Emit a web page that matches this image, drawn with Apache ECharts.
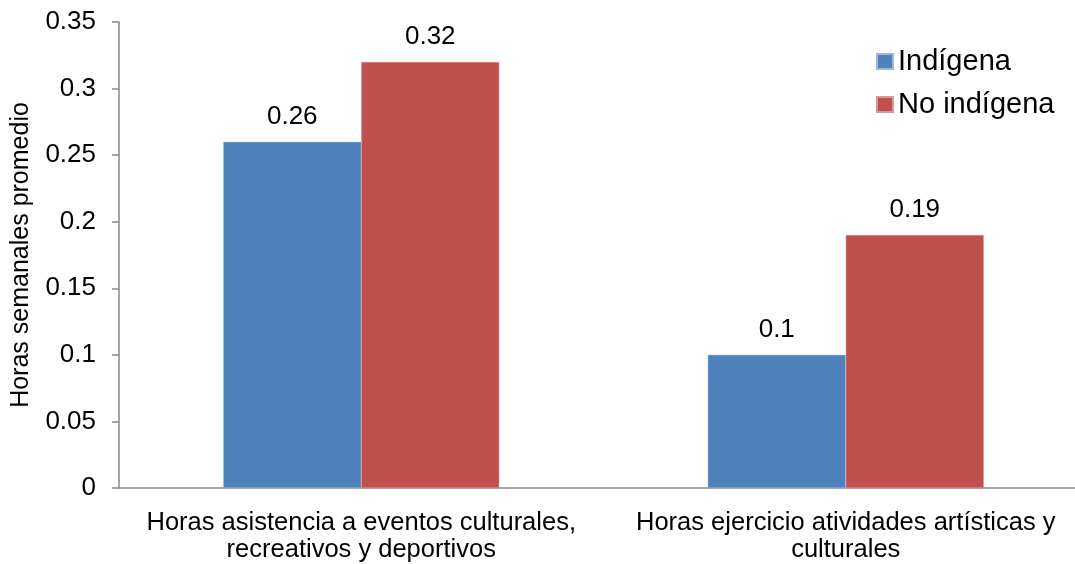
<!DOCTYPE html>
<html>
<head>
<meta charset="utf-8">
<script src="https://cdn.jsdelivr.net/npm/echarts@6/dist/echarts.min.js"></script>
<style>html,body{margin:0;padding:0;background:#fff;overflow:hidden;}#c{width:1090px;height:564px;}</style>
</head>
<body>
<div id="c"></div>
<script>
const categories = ['Horas asistencia a eventos culturales,\nrecreativos y deportivos', 'Horas ejercicio atividades artísticas y\nculturales'];
const indigena = [0.26, 0.1];
const noIndigena = [0.32, 0.19];
const yTicks = [0, 0.05, 0.1, 0.15, 0.2, 0.25, 0.3, 0.35];

const chart = echarts.init(document.getElementById('c'));
const font = 'Liberation Sans, Arial, sans-serif';
chart.setOption({
  animation: false,
  textStyle: {fontFamily: font},
  grid: {left: 119, right: 2, top: 22, bottom: 76, containLabel: false},
  legend: {
    orient: 'vertical', left: 871, top: 42, itemWidth: 16, itemHeight: 15, itemGap: 14,
    icon: 'rect',
    textStyle: {fontSize: 29, color: '#000', fontFamily: font},
    data: ['Indígena', 'No indígena']
  },
  xAxis: {
    type: 'category', data: categories,
    axisLine: {lineStyle: {color: '#898989', width: 1.5}},
    axisTick: {show: false},
    axisLabel: {interval: 0, hideOverlap: false, fontSize: 25.5, color: '#000', lineHeight: 27, margin: 21, fontFamily: font}
  },
  yAxis: {
    type: 'value', min: 0, max: 0.35, interval: 0.05,
    name: 'Horas semanales promedio', nameLocation: 'middle', nameGap: 85,
    nameTextStyle: {fontSize: 25, color: '#000', fontFamily: font},
    axisLine: {show: true, lineStyle: {color: '#898989', width: 1.5}},
    axisTick: {show: true, inside: false, length: 7, lineStyle: {color: '#898989', width: 1.5}},
    splitLine: {show: false},
    axisLabel: {fontSize: 26, color: '#000', margin: 23, fontFamily: font,
      formatter: v => { const t = yTicks.find(x => Math.abs(x - v) < 1e-9); return String(t !== undefined ? t : v); }}
  },
  series: [
    {name: 'Indígena', type: 'bar', data: indigena, barWidth: 138, barGap: '0%',
     itemStyle: {color: '#4F81BD', borderColor: '#9FB8DA', borderWidth: 0.5},
     label: {show: true, position: 'top', distance: 12, fontSize: 26, color: '#000', fontFamily: font}},
    {name: 'No indígena', type: 'bar', data: noIndigena, barWidth: 138, barGap: '0%',
     itemStyle: {color: '#C0504D', borderColor: '#D99694', borderWidth: 0.5},
     label: {show: true, position: 'top', distance: 12, fontSize: 26, color: '#000', fontFamily: font}}
  ]
});
</script>
</body>
</html>
